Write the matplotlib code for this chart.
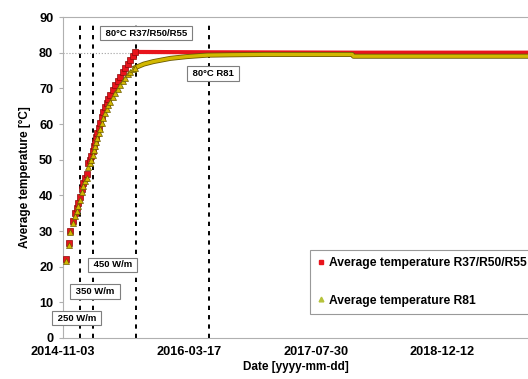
import numpy as np
import matplotlib
matplotlib.use('Agg')
import matplotlib.pyplot as plt
import matplotlib.dates as mdates
import matplotlib.patheffects as pe

plt.rcParams['font.family'] = ['Liberation Sans', 'DejaVu Sans']
plt.rcParams['font.weight'] = 'bold'

# Data (days after 2014-11-03)
start = np.datetime64('2014-11-03')

rise_days = [11, 24, 29, 41, 48, 54, 61, 67, 74, 81, 88, 94, 100, 106, 111, 118,
             122, 127, 132, 136, 141, 147, 153, 160, 167, 174, 180, 187, 196, 206,
             216, 226, 236, 246, 256, 266, 276, 286]
red_rise = [22.1, 26.5, 30.1, 32.9, 35.0, 36.4, 37.8, 39.6, 41.8, 43.5, 44.8, 45.9,
            49.0, 50.0, 50.9, 52.4, 53.7, 55.0, 56.3, 57.4, 58.8, 60.2, 61.9, 63.5,
            64.7, 65.8, 67.0, 68.1, 69.5, 70.9, 72.1, 73.3, 74.5, 75.6, 76.8, 77.9,
            79.0, 80.1]
yel_rise = [21.6, 26.0, 29.6, 32.3, 34.3, 35.7, 37.1, 38.8, 40.9, 42.6, 43.9, 45.0,
            48.0, 49.0, 49.9, 51.3, 52.6, 53.8, 55.0, 56.1, 57.4, 58.7, 60.3, 61.8,
            63.0, 64.1, 65.2, 66.2, 67.5, 68.8, 69.9, 71.0, 72.0, 73.0, 73.9, 74.7,
            75.3, 75.8]

red_plat_days = [286, 290, 600, 1150, 1850]
red_plat = [80.1, 80.2, 80.1, 80.0, 80.0]

yel_plat_days = [286, 320, 358, 425, 491, 570, 663, 800, 1145, 1150, 1850]
yel_plat = [75.8, 76.8, 77.5, 78.4, 78.9, 79.3, 79.4, 79.5, 79.5, 79.0, 79.0]

vline_days = [67, 119, 290, 579]

xtick_labels = ['2014-11-03', '2016-03-17', '2017-07-30', '2018-12-12']
x_end_day = 1841

labels_box = [('80°C R37/R50/R55', 329, 85.5),
              ('80°C R81', 595, 74.2),
              ('450 W/m', 196, 20.5),
              ('350 W/m', 127, 13.0),
              ('250 W/m', 54, 5.6)]


def to_dates(days):
    return start + np.array(days, dtype='timedelta64[D]')


fig = plt.figure(figsize=(5.28, 3.79), dpi=100)
ax = fig.add_axes([63 / 528, 41 / 379, 465 / 528, 321 / 379])

red = '#e8141c'
red_edge = '#8a0a0a'
yel = '#d2b800'
yel_edge = '#6b5a00'

ax.axhline(80, color='#a0a0a0', linestyle=':', linewidth=0.8, zorder=1)

for d in vline_days:
    ax.plot(to_dates([d, d]), [0, 88.5], color='black', linestyle=(0, (2.2, 2.6)),
            linewidth=1.4, zorder=2)

# R37/R50/R55
ax.plot(to_dates(red_plat_days), red_plat, color=red, linewidth=3.0, zorder=3,
        solid_capstyle='butt')
ax.plot(to_dates(rise_days), red_rise, linestyle='none', marker='s', markersize=4.3,
        markerfacecolor=red, markeredgecolor=red_edge, markeredgewidth=0.5, zorder=4)

# R81
ax.plot(to_dates(yel_plat_days), yel_plat, color=yel, linewidth=2.4, zorder=5,
        path_effects=[pe.Stroke(linewidth=3.6, foreground=yel_edge), pe.Normal()])
ax.plot(to_dates(rise_days), yel_rise, linestyle='none', marker='^', markersize=4.5,
        markerfacecolor=yel, markeredgecolor=yel_edge, markeredgewidth=0.5, zorder=6)

# legend handles
ax.plot([], [], linestyle='none', marker='s', markersize=3, markerfacecolor=red,
        markeredgecolor=red, label='Average temperature R37/R50/R55')
ax.plot([], [], linestyle='none', marker='^', markersize=3.4, markerfacecolor='#b5c23a',
        markeredgecolor='#b5c23a', label='Average temperature R81')

for txt, d, v in labels_box:
    ax.text(to_dates([d])[0], v, ' ' + txt + ' ', fontsize=6.8, fontweight='bold',
            ha='center', va='center', zorder=8, clip_on=False,
            bbox=dict(boxstyle='square,pad=0.3', fc='white', ec='#7f7f7f', lw=0.8))

ax.set_xlim(to_dates([0])[0], to_dates([x_end_day])[0])
ax.set_ylim(0, 90)
ax.set_yticks(range(0, 91, 10))
ax.set_xticks([np.datetime64(s) for s in xtick_labels])
ax.xaxis.set_major_formatter(mdates.DateFormatter('%Y-%m-%d'))

for s in ['left', 'bottom', 'top']:
    ax.spines[s].set_color('#b0b0b0')
    ax.spines[s].set_linewidth(0.8)
ax.spines['right'].set_visible(False)
ax.tick_params(axis='y', length=3, color='#b0b0b0', labelsize=9.2, pad=4)
ax.tick_params(axis='x', length=0, labelsize=9.2, pad=6)

ax.set_xlabel('Date [yyyy-mm-dd]', fontsize=8.5, fontweight='bold', labelpad=2)
ax.set_ylabel('Average temperature [°C]', fontsize=8.5, fontweight='bold', labelpad=6)

leg = ax.legend(loc='lower right', bbox_to_anchor=(1.012, 0.075), borderaxespad=0,
                fontsize=8.7, frameon=True, fancybox=False, labelspacing=2.1,
                handlelength=0.6, handletextpad=0.3, borderpad=0.6)
leg.get_frame().set_edgecolor('#808080')
leg.get_frame().set_linewidth(0.8)
for t in leg.get_texts():
    t.set_fontweight('bold')

plt.savefig('out.png', dpi=100)
